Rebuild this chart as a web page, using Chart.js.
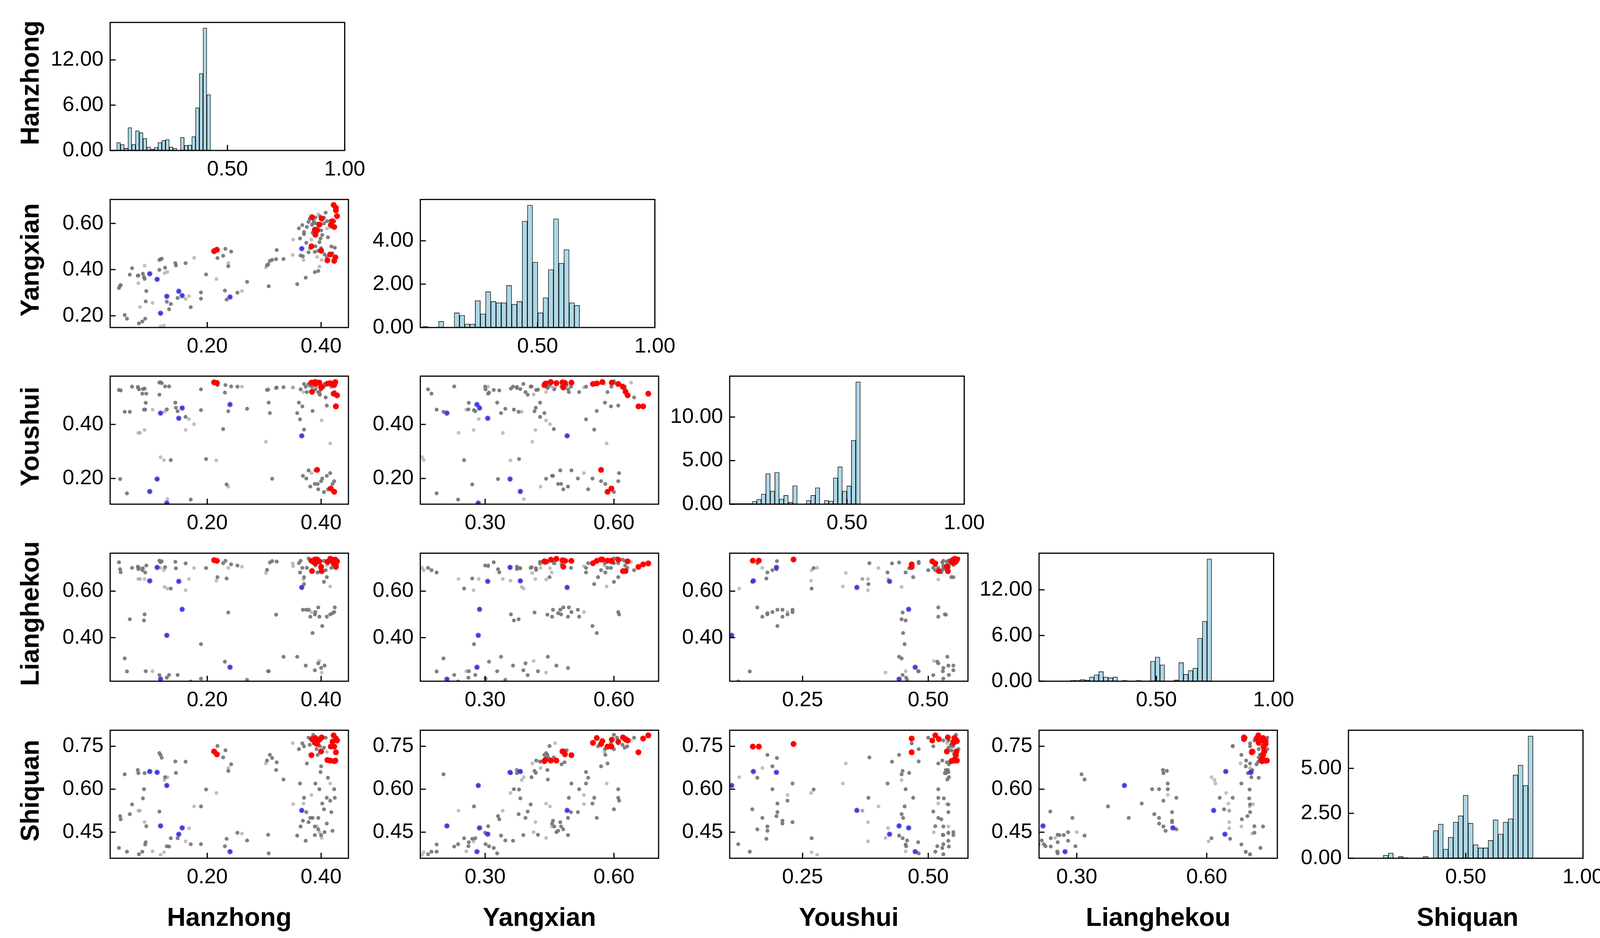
<!DOCTYPE html>
<html>
<head>
<meta charset="utf-8">
<script src="https://cdn.jsdelivr.net/npm/chart.js@4.4.0/dist/chart.umd.min.js"></script>
<style>
  body { margin: 0; background: #fff; }
  #page { position: relative; width: 4151px; height: 2400px; overflow: hidden; background: #fff; }
  #page canvas { position: absolute; }
  .lab { position: absolute; font-family: "Liberation Sans", Arial, sans-serif; font-weight: bold;
         font-size: 66px; line-height: 1; white-space: nowrap; color: #000; }
</style>
</head>
<body>
<div id="page"></div>
<script>
// --- variables (order = rows/columns of the pair grid)
const names = ['Hanzhong', 'Yangxian', 'Youshui', 'Lianghekou', 'Shiquan'];

// --- histogram (density) per variable: first bin edge, bin width, bar heights
const histStart = [0.028, 0.011, 0.0, 0.134, 0.1486];
const histWidth = [0.016, 0.02227, 0.0192, 0.02007, 0.02128];
const hanzhongHist = [1.06, 0.80, 0.29, 3.02, 0.80, 2.61, 2.37, 1.60, 0.46, 0.18, 0.41, 1.06, 1.34, 1.44, 0.46, 0.31, 0, 1.73, 0.67, 0.72, 1.83, 5.66, 10.19, 16.22, 7.40];
const yangxianHist = [0.05, 0, 0, 0.28, 0, 0, 0.68, 0.56, 0.16, 0.16, 1.24, 0.63, 1.65, 1.20, 1.14, 1.14, 1.94, 1.07, 1.20, 4.90, 5.64, 3.01, 0.68, 1.37, 2.67, 5.01, 2.96, 3.59, 1.14, 1.02];
const youshuiHist = [0.07, 0.07, 0.07, 0.07, 0.07, 0.32, 0.56, 1.16, 3.50, 1.50, 3.64, 0.59, 1.02, 0.21, 2.12, 0, 0, 0.42, 1.02, 1.89, 0.03, 0.42, 0.35, 3.02, 4.29, 1.50, 2.09, 7.33, 14.03];
const lianghekouHist = [0.13, 0.13, 0.23, 0.16, 0.56, 0.84, 1.27, 0.56, 0.44, 0.56, 0, 0.13, 0, 0.03, 0.13, 0.05, 0.05, 2.63, 3.18, 2.15, 0, 0, 0.18, 2.45, 0.90, 1.40, 1.71, 5.65, 7.87, 16.05];
const shiquanHist = [0.17, 0.29, 0, 0.10, 0.04, 0, 0, 0, 0.10, 0, 1.54, 1.90, 0.51, 1.17, 2.01, 2.36, 3.51, 1.95, 0.76, 0.58, 0.58, 0.99, 2.14, 1.35, 2.01, 2.20, 4.64, 5.18, 4.05, 6.80];
const histYMax = [16.96, 5.90, 14.69, 16.8, 7.12];
const histYTicks = [[0, 6, 12], [0, 2, 4], [0, 5, 10], [0, 6, 12], [0, 2.5, 5]];
const histXTicks = [0.5, 1.0];

// --- scatter axis limits and ticks per variable
const varMin = [0.0295, 0.149, 0.105, 0.213, 0.359];
const varMax = [0.448, 0.704, 0.579, 0.763, 0.806];
const xTicks = [[0.2, 0.4], [0.3, 0.6], [0.25, 0.5], [0.3, 0.6], []];
const yTicks = [[], [0.2, 0.4, 0.6], [0.2, 0.4], [0.4, 0.6], [0.45, 0.6, 0.75]];

// --- samples: 120 grey, 22 red, 8 blue
const hanzhong = [
  .045, .047, .048, .055, .059, .064, .068, .078, .079, .079,
  .080, .086, .091, .087, .089, .090, .090, .093, .082, .092,
  .104, .116, .118, .120, .116, .118, .124, .126, .125, .130,
  .129, .133, .136, .144, .145, .148, .162, .168, .162, .171,
  .177, .189, .189, .198, .216, .218, .228, .232, .242, .231,
  .234, .237, .237, .253, .261, .270, .303, .305, .307, .310,
  .314, .321, .308, .322, .334, .350, .351, .358, .361, .367,
  .363, .370, .370, .364, .368, .373, .369, .378, .384, .387,
  .390, .398, .408, .410, .416, .423, .374, .381, .390, .389,
  .395, .400, .406, .410, .401, .397, .395, .389, .424, .394,
  .399, .397, .410, .416, .405, .385, .402, .392, .380, .395,
  .405, .375, .400, .412, .383, .418, .393, .386, .420, .378,
  .212, .217, .422, .426, .426, .428, .384, .401, .397, .417, .423,
  .389, .393, .390, .383, .416, .425, .411, .423, .400, .420, .390,
  .099, .112, .118, .129, .150, .156, .240, .366
];
const yangxian = [
  .320, .330, .333, .203, .187, .378, .406, .374, .374, .341,
  .167, .175, .187, .382, .367, .360, .417, .307, .238, .262,
  .256, .442, .445, .447, .399, .153, .157, .408, .385, .390,
  .261, .228, .251, .428, .418, .277, .428, .285, .273, .237,
  .451, .301, .274, .379, .359, .450, .460, .490, .478, .309,
  .270, .415, .429, .300, .307, .347, .410, .419, .423, .438,
  .442, .445, .328, .485, .446, .463, .530, .337, .579, .593,
  .535, .563, .554, .461, .458, .365, .442, .607, .594, .610,
  .626, .631, .647, .610, .612, .610, .516, .493, .501, .477,
  .482, .493, .466, .456, .442, .413, .394, .389, .495, .580,
  .535, .519, .578, .583, .600, .560, .550, .600, .620, .640,
  .625, .585, .570, .540, .530, .500, .455, .600, .470, .475,
  .480, .486, .680, .668, .657, .632, .627, .621, .595, .594, .585,
  .573, .570, .551, .501, .466, .453, .440, .438, .482, .610, .560,
  .382, .358, .211, .284, .306, .287, .281, .491
];
const youshui = [
  .528, .198, .526, .447, .145, .447, .540, .539, .535, .369,
  .530, .514, .455, .531, .455, .533, .380, .514, .369, .480,
  .455, .555, .556, .553, .510, .279, .268, .541, .447, .124,
  .456, .541, .268, .481, .462, .449, .428, .420, .380, .122,
  .401, .530, .453, .272, .267, .546, .383, .546, .541, .518,
  .178, .449, .170, .540, .540, .458, .336, .528, .529, .442,
  .199, .535, .481, .537, .538, .537, .537, .442, .481, .467,
  .419, .550, .381, .530, .210, .540, .520, .550, .540, .550,
  .530, .510, .500, .470, .220, .190, .200, .170, .230, .180,
  .160, .530, .550, .210, .415, .511, .520, .550, .520, .180,
  .540, .520, .550, .330, .150, .450, .200, .560, .545, .555,
  .540, .520, .190, .160, .220, .540, .540, .555, .180, .230,
  .556, .554, .514, .467, .467, .508, .521, .539, .555, .163, .151,
  .557, .232, .550, .555, .553, .557, .551, .546, .537, .550, .552,
  .152, .198, .442, .109, .423, .461, .474, .358
];
const lianghekou = [
  .724, .694, .681, .311, .255, .479, .700, .705, .695, .652,
  .700, .690, .680, .698, .474, .500, .652, .710, .652, .256,
  .256, .731, .724, .728, .239, .700, .690, .703, .618, .611,
  .228, .240, .611, .726, .698, .240, .719, .652, .604, .212,
  .699, .224, .372, .699, .645, .660, .720, .730, .715, .297,
  .654, .508, .700, .710, .705, .219, .678, .691, .256, .723,
  .729, .499, .256, .727, .318, .719, .707, .318, .720, .700,
  .680, .660, .630, .730, .520, .280, .650, .740, .730, .720,
  .710, .700, .690, .660, .500, .510, .520, .490, .510, .500,
  .530, .270, .280, .490, .250, .300, .290, .260, .530, .680,
  .700, .490, .710, .620, .640, .420, .450, .740, .735, .725,
  .730, .700, .690, .720, .510, .700, .680, .720, .505, .520,
  .733, .730, .719, .715, .704, .728, .686, .686, .728, .731, .731,
  .736, .736, .720, .730, .739, .735, .726, .728, .705, .735, .730,
  .644, .702, .222, .410, .642, .522, .273, .616
];
const shiquan = [
  .395, .506, .495, .652, .382, .513, .547, .667, .656, .525,
  .373, .382, .407, .568, .600, .656, .485, .471, .525, .415,
  .383, .726, .720, .710, .522, .371, .380, .642, .632, .642,
  .401, .400, .429, .697, .657, .429, .696, .464, .418, .408,
  .540, .408, .540, .599, .587, .751, .711, .736, .687, .401,
  .427, .664, .674, .448, .445, .421, .690, .700, .441, .720,
  .709, .667, .376, .694, .634, .761, .548, .438, .740, .760,
  .620, .750, .570, .470, .490, .420, .550, .780, .770, .760,
  .770, .750, .780, .570, .560, .600, .520, .500, .620, .470,
  .460, .440, .450, .480, .430, .450, .500, .440, .570, .720,
  .660, .600, .730, .620, .530, .500, .550, .740, .755, .770,
  .745, .690, .680, .640, .580, .520, .470, .790, .455, .485,
  .732, .722, .788, .777, .729, .770, .775, .781, .773, .749, .749,
  .768, .758, .762, .719, .700, .700, .702, .698, .732, .766, .779,
  .662, .659, .472, .613, .443, .465, .382, .526
];
// 0 = dark grey, 1 = light grey, 2 = red, 3 = blue
const pointType = [
  0, 0, 0, 0, 0, 0, 0, 0, 0, 1,
  0, 0, 0, 0, 0, 0, 1, 0, 1, 0,
  1, 0, 0, 0, 0, 1, 1, 0, 1, 1,
  0, 0, 0, 0, 0, 0, 0, 1, 1, 0,
  1, 0, 0, 0, 1, 0, 0, 0, 0, 0,
  0, 0, 1, 0, 1, 0, 1, 0, 0, 0,
  0, 0, 0, 0, 0, 1, 1, 0, 0, 0,
  0, 0, 0, 0, 0, 0, 1, 0, 0, 0,
  0, 0, 0, 0, 0, 0, 0, 0, 0, 0,
  0, 0, 0, 0, 1, 1, 0, 0, 0, 0,
  0, 0, 1, 1, 0, 0, 0, 0, 0, 1,
  0, 0, 0, 0, 1, 0, 1, 0, 0, 0,
  2, 2, 2, 2, 2, 2, 2, 2, 2, 2, 2,
  2, 2, 2, 2, 2, 2, 2, 2, 2, 2, 2,
  3, 3, 3, 3, 3, 3, 3, 3
];

const vars = [hanzhong, yangxian, youshui, lianghekou, shiquan];
const hists = [hanzhongHist, yangxianHist, youshuiHist, lianghekouHist, shiquanHist];

// --- grid geometry (plot area of each panel, px)
const colLeft = [282, 1076, 1868, 2660, 3452];
const rowTop = [38, 491, 943, 1396, 1849];
const plotW = 610, plotH = 347;
const padL = 200, padT = 30, padR = 60, padB = 90;
const FONT = "'Liberation Sans', Arial, sans-serif";

Chart.defaults.font.family = FONT;

// matplotlib-like box with inward ticks
const framePlugin = {
  id: 'frame',
  afterDraw(chart) {
    const { ctx, chartArea: a, scales } = chart;
    ctx.save();
    ctx.strokeStyle = '#000';
    ctx.lineWidth = 3;
    ctx.beginPath();
    scales.x.ticks.forEach(t => {
      const p = scales.x.getPixelForValue(t.value);
      ctx.moveTo(p, a.bottom); ctx.lineTo(p, a.bottom - 14);
    });
    scales.y.ticks.forEach(t => {
      const p = scales.y.getPixelForValue(t.value);
      ctx.moveTo(a.left, p); ctx.lineTo(a.left + 14, p);
    });
    ctx.stroke();
    ctx.strokeRect(a.left, a.top, a.right - a.left, a.bottom - a.top);
    ctx.restore();
  }
};

function axis(min, max, ticks, isX) {
  return {
    type: 'linear', position: isX ? 'bottom' : 'left',
    min: min, max: max, offset: false,
    grid: { display: false, drawTicks: false },
    border: { display: false },
    afterBuildTicks: s => { s.ticks = ticks.map(v => ({ value: v })); },
    afterFit: s => { if (isX) s.height = padB; else s.width = padL; },
    ticks: {
      padding: isX ? 17 : 17, color: '#000', autoSkip: false, maxRotation: 0,
      font: { family: FONT, size: 54 },
      callback: v => Number(v).toFixed(2)
    }
  };
}

function makeCanvas(r, c) {
  const cv = document.createElement('canvas');
  const w = padL + plotW + padR, h = padT + plotH + padB;
  cv.width = w; cv.height = h;
  cv.style.width = w + 'px'; cv.style.height = h + 'px';
  cv.style.left = (colLeft[c] - padL) + 'px';
  cv.style.top = (rowTop[r] - padT) + 'px';
  document.getElementById('page').appendChild(cv);
  return cv;
}

const baseOptions = {
  responsive: false, animation: false, devicePixelRatio: 1,
  layout: { padding: { left: 0, top: padT, right: padR, bottom: 0 }, autoPadding: false },
  plugins: { legend: { display: false }, tooltip: { enabled: false } }
};

function points(xi, yi, types) {
  const out = [];
  for (let k = 0; k < pointType.length; k++) {
    if (types.includes(pointType[k])) out.push({ x: vars[xi][k], y: vars[yi][k] });
  }
  return out;
}

for (let r = 0; r < 5; r++) {
  for (let c = 0; c <= r; c++) {
    const cv = makeCanvas(r, c);
    if (r === c) {
      const bars = hists[r]
        .map((h, k) => ({ x: histStart[r] + (k + 0.5) * histWidth[r], y: h }))
        .filter(d => d.y > 0);
      new Chart(cv, {
        type: 'bar',
        data: { datasets: [{
          data: bars, backgroundColor: '#add8e6', borderColor: '#000',
          borderWidth: 1.5, borderSkipped: false,
          barPercentage: 1, categoryPercentage: 1
        }] },
        options: Object.assign({}, baseOptions, {
          scales: { x: axis(0, 1, histXTicks, true), y: axis(0, histYMax[r], histYTicks[r], false) }
        }),
        plugins: [framePlugin]
      });
    } else {
      // first dataset is drawn on top
      new Chart(cv, {
        type: 'scatter',
        data: { datasets: [
          { data: points(c, r, [2]), backgroundColor: '#ff0000', pointRadius: 7.5, borderWidth: 0 },
          { data: points(c, r, [3]), backgroundColor: 'rgba(20,20,255,0.6)', pointRadius: 7, borderWidth: 0 },
          { data: points(c, r, [0, 2, 3]), backgroundColor: 'rgba(118,118,118,0.92)', pointRadius: 5, borderWidth: 0 },
          { data: points(c, r, [1]), backgroundColor: 'rgba(150,150,150,0.6)', pointRadius: 4.8, borderWidth: 0 }
        ] },
        options: Object.assign({}, baseOptions, {
          scales: { x: axis(varMin[c], varMax[c], xTicks[c], true), y: axis(varMin[r], varMax[r], yTicks[r], false) }
        }),
        plugins: [framePlugin]
      });
    }
  }
}

// row titles (left) and column titles (bottom)
const page = document.getElementById('page');
names.forEach((n, i) => {
  const a = document.createElement('div');
  a.className = 'lab';
  a.textContent = n;
  a.style.left = '76px';
  a.style.top = (rowTop[i] + plotH / 2) + 'px';
  a.style.transform = 'translate(-50%,-50%) rotate(-90deg)';
  page.appendChild(a);

  const b = document.createElement('div');
  b.className = 'lab';
  b.textContent = n;
  b.style.left = (colLeft[i] + plotW / 2) + 'px';
  b.style.top = '2346px';
  b.style.transform = 'translate(-50%,-50%)';
  page.appendChild(b);
});
</script>
</body>
</html>
